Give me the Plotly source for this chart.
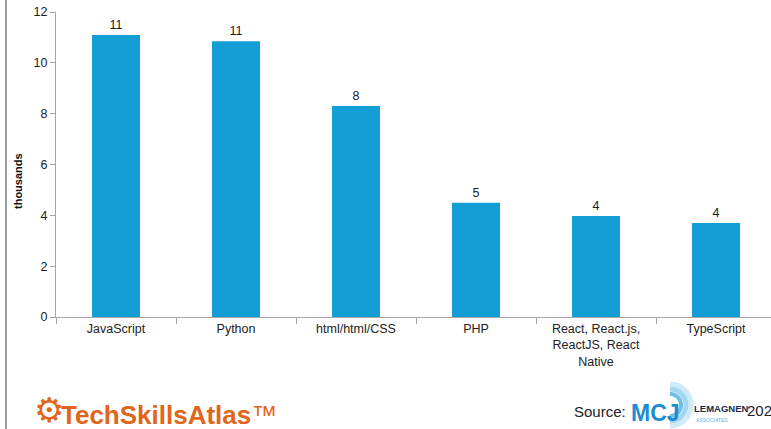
import math
import plotly.graph_objects as go

# Job postings per skill (thousands)
skills = ["JavaScript", "Python", "html/html/CSS", "PHP",
          "React, React.js,<br>ReactJS, React<br>Native", "TypeScript"]
postings = [11.1, 10.85, 8.3, 4.5, 3.97, 3.7]
y_ticks = [0, 2, 4, 6, 8, 10, 12]

BAR = "#149ED6"
AXIS = "#A6A6A6"
FONT = "Liberation Sans, Arial, sans-serif"

fig = go.Figure(
    go.Bar(
        x=skills,
        y=postings,
        marker=dict(color=BAR, line=dict(width=0)),
        width=0.4,
        texttemplate="%{y:.0f}",
        textposition="outside",
        textfont=dict(size=12.5, color="#1A1A1A", family=FONT),
        cliponaxis=False,
    )
)

# plot area: 56 px from left, runs past the right edge of the page
W, H = 771, 429
L, T, B = 56, 12, 112
plot_w = W - L
plot_h = H - T - B
slot = 120.0
x_hi = -0.5 + plot_w / slot

fig.update_layout(
    width=W, height=H,
    margin=dict(l=L, r=0, t=T, b=B),
    paper_bgcolor="white", plot_bgcolor="white",
    showlegend=False,
    font=dict(family=FONT, size=12, color="#222222"),
)
fig.update_xaxes(
    range=[-0.5, x_hi],
    showline=True, linecolor=AXIS, linewidth=1,
    ticks="outside", tickson="boundaries", ticklen=6, tickcolor=AXIS,
    tickfont=dict(size=12.5, color="#222222"),
    showgrid=False, zeroline=False,
)
fig.update_yaxes(
    range=[0, 12], tickvals=y_ticks,
    showline=True, linecolor=AXIS, linewidth=1,
    ticks="outside", ticklen=5, tickcolor=AXIS,
    tickfont=dict(size=12.5, color="#222222"),
    showgrid=False, zeroline=False,
)


def px_x(px):
    return (px - L) / plot_w


def px_y(py):
    return (H - B - py) / plot_h


# y axis title
fig.add_annotation(xref="paper", yref="paper", x=px_x(18), y=px_y(181),
                   text="<b>thousands</b>", textangle=-90, showarrow=False,
                   xanchor="center", yanchor="middle",
                   font=dict(size=11, color="#111111", family=FONT))

# frame line on the left edge
fig.add_shape(type="line", xref="paper", yref="paper",
              x0=px_x(6), x1=px_x(6), y0=px_y(0), y1=px_y(H),
              line=dict(color="#9A9A9A", width=2))

# TechSkillsAtlas logo
ORANGE = "#E0661C"
fig.add_annotation(xref="paper", yref="paper", x=px_x(32), y=px_y(410),
                   text="⚙", showarrow=False, xanchor="left", yanchor="middle",
                   font=dict(size=34, color=ORANGE, family="DejaVu Sans"))
fig.add_annotation(xref="paper", yref="paper", x=px_x(59), y=px_y(415),
                   text="<b>TechSkillsAtlas</b>™", showarrow=False,
                   xanchor="left", yanchor="middle",
                   font=dict(size=26, color=ORANGE, family=FONT))

# Source line
fig.add_annotation(xref="paper", yref="paper", x=px_x(572), y=px_y(411),
                   text="Source:", showarrow=False, xanchor="left", yanchor="middle",
                   font=dict(size=15, color="#222222", family=FONT))


def half_arc(cx, cy, r, n=24):
    pts = []
    for i in range(n + 1):
        a = -math.pi / 2 + math.pi * i / n
        pts.append((px_x(cx + r * math.cos(a)), px_y(cy + r * math.sin(a))))
    return "M " + " L ".join(f"{x:.5f},{y:.5f}" for x, y in pts)


# swirl around the J
for r, col, w in [(21, "#CFEAF8", 5), (16, "#A3D6F1", 5), (11, "#6FBFE9", 4)]:
    fig.add_shape(type="path", xref="paper", yref="paper",
                  path=half_arc(670, 405, r), line=dict(color=col, width=w))
fig.add_annotation(xref="paper", yref="paper", x=px_x(629), y=px_y(413),
                   text="<b>MCJ</b>", showarrow=False, xanchor="left", yanchor="middle",
                   font=dict(size=23, color="#1E8BD0", family=FONT))
fig.add_annotation(xref="paper", yref="paper", x=px_x(692), y=px_y(408),
                   text="<b>LEMAGNEN</b>", showarrow=False, xanchor="left", yanchor="middle",
                   font=dict(size=9.5, color="#1B2A4A", family=FONT))
fig.add_annotation(xref="paper", yref="paper", x=px_x(694), y=px_y(420),
                   text="ASSOCIATES", showarrow=False, xanchor="left", yanchor="middle",
                   font=dict(size=5, color="#5BB6E6", family=FONT))
fig.add_annotation(xref="paper", yref="paper", x=px_x(745), y=px_y(410),
                   text="2023", showarrow=False, xanchor="left", yanchor="middle",
                   font=dict(size=15, color="#222222", family=FONT))

fig.write_html("out.html")
